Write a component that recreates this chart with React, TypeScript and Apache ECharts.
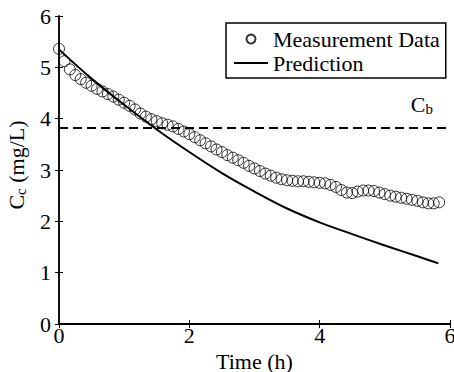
import React, { useEffect, useRef } from "react";
import * as echarts from "echarts";

// Measurement sampling times (minutes) and concentrations (mg/L)
const MEAS_MINUTES = [
  0, 5, 10, 15, 20, 25, 30, 35, 40, 45, 50, 55, 60, 65, 70, 75, 80, 85, 90, 95,
  100, 105, 110, 115, 120, 125, 130, 135, 140, 145, 150, 155, 160, 165, 170, 175,
  180, 185, 190, 195, 200, 205, 210, 215, 220, 225, 230, 235, 240, 245, 250, 255,
  260, 265, 270, 275, 280, 285, 290, 295, 300, 305, 310, 315, 320, 325, 330, 335,
  340, 345, 350,
];
const MEAS_VALUES = [
  5.36, 5.12, 4.96, 4.85, 4.77, 4.7, 4.64, 4.58, 4.53, 4.48, 4.43, 4.37, 4.31,
  4.25, 4.18, 4.1, 4.04, 3.99, 3.95, 3.91, 3.88, 3.85, 3.8, 3.75, 3.7, 3.64,
  3.58, 3.52, 3.46, 3.4, 3.35, 3.29, 3.24, 3.19, 3.14, 3.08, 3.03, 2.98, 2.93,
  2.89, 2.85, 2.82, 2.8, 2.79, 2.78, 2.78, 2.77, 2.76, 2.75, 2.74, 2.71, 2.67,
  2.61, 2.56, 2.55, 2.58, 2.6, 2.6, 2.59, 2.56, 2.53, 2.5, 2.48, 2.46, 2.44,
  2.42, 2.4, 2.37, 2.35, 2.35, 2.37,
];

// Model prediction (hours, mg/L)
const PRED_HOURS = [0, 0.5, 1, 1.5, 2, 2.5, 3, 3.5, 4, 4.5, 5, 5.5, 5.82];
const PRED_VALUES = [5.35, 4.78, 4.27, 3.79, 3.35, 2.94, 2.58, 2.25, 1.98, 1.75, 1.53, 1.32, 1.18];

const CB_VALUE = 3.83;

const X_TICKS = { min: 0, max: 6, interval: 2 };
const Y_TICKS = { min: 0, max: 6, interval: 1 };

const FONT = "Liberation Serif";

export default function App() {
  const ref = useRef<HTMLDivElement>(null);

  useEffect(() => {
    if (!ref.current) return;
    const chart = echarts.init(ref.current, undefined, { renderer: "svg" });

    const measData = MEAS_MINUTES.map((m, i) => [m / 60, MEAS_VALUES[i]]);
    const predData = PRED_HOURS.map((h, i) => [h, PRED_VALUES[i]]);

    const tok = { fontFamily: FONT, fontSize: 22, color: "#000" };
    const subRich = {
      a: { ...tok, fill: "#000", lineHeight: 24, verticalAlign: "top" },
      s: { ...tok, fill: "#000", fontSize: 15, lineHeight: 24, verticalAlign: "top", padding: [8, 0, 0, 0] },
    };

    const axisBase = {
      type: "value" as const,
      axisLine: { show: true, lineStyle: { color: "#000", width: 1.5 } },
      axisTick: { show: true, inside: true, length: 4, lineStyle: { color: "#000", width: 1 } },
      splitLine: { show: false },
    };

    chart.setOption({
      animation: false,
      backgroundColor: "#fff",
      textStyle: { fontFamily: FONT, fontSize: 22, color: "#000" },
      grid: { left: 59, right: 4, top: 16, bottom: 48, containLabel: false, outerBoundsMode: "none" },
      legend: {
        orient: "vertical",
        left: 226,
        top: 23,
        padding: [5, 6, 4, 7],
        itemGap: 2,
        itemWidth: 34,
        itemHeight: 9,
        borderColor: "#000",
        borderWidth: 1.5,
        borderRadius: 0,
        backgroundColor: "#fff",
        textStyle: { ...tok, lineHeight: 22 },
        data: [
          { name: "Measurement Data" },
          { name: "Prediction", itemStyle: { color: "rgba(0,0,0,0)", borderColor: "rgba(0,0,0,0)", borderWidth: 0 } },
        ],
      },
      xAxis: [
        {
          ...axisBase,
          position: "bottom",
          ...X_TICKS,
          axisLine: { show: true, lineStyle: { color: "#000", width: 2 } },
          axisLabel: { ...tok, margin: 0 },
          name: "Time (h)",
          nameLocation: "middle",
          nameGap: 13,
          nameTextStyle: { ...tok, verticalAlign: "top" },
        },
        {
          ...axisBase,
          position: "top",
          ...X_TICKS,
          axisLabel: { show: false },
        },
      ],
      yAxis: [
        {
          ...axisBase,
          position: "left",
          ...Y_TICKS,
          axisLabel: { ...tok, margin: 8 },
        },
        {
          ...axisBase,
          position: "right",
          ...Y_TICKS,
          axisLabel: { show: false },
        },
      ],
      graphic: [
        {
          type: "text",
          x: 17,
          y: 165,
          rotation: Math.PI / 2,
          style: {
            text: "{a|C}{s|c}{a| (mg/L)}",
            align: "center",
            verticalAlign: "middle",
            fill: "#000",
            rich: subRich,
          },
        },
      ],
      series: [
        {
          name: "Measurement Data",
          type: "scatter",
          xAxisIndex: 0,
          yAxisIndex: 0,
          symbol: "circle",
          symbolSize: 11,
          itemStyle: { color: "rgba(0,0,0,0)", borderColor: "#000", borderWidth: 1 },
          data: measData,
          z: 3,
        },
        {
          name: "Prediction",
          type: "line",
          xAxisIndex: 0,
          yAxisIndex: 0,
          symbol: "none",
          smooth: 0.4,
          lineStyle: { color: "#000", width: 2 },
          itemStyle: { color: "#000" },
          data: predData,
          z: 4,
          markLine: {
            silent: true,
            symbol: "none",
            lineStyle: { color: "#000", width: 2, type: [9, 5] },
            label: {
              show: true,
              position: "insideEndTop",
              distance: [17, 10],
              formatter: "{a|C}{s|b}",
              rich: subRich,
            },
            data: [{ yAxis: CB_VALUE }],
          },
        },
      ],
    });

    return () => chart.dispose();
  }, []);

  return (
    <div
      ref={ref}
      style={{ position: "fixed", left: 0, top: 0, width: 454, height: 372, background: "#fff" }}
    />
  );
}
